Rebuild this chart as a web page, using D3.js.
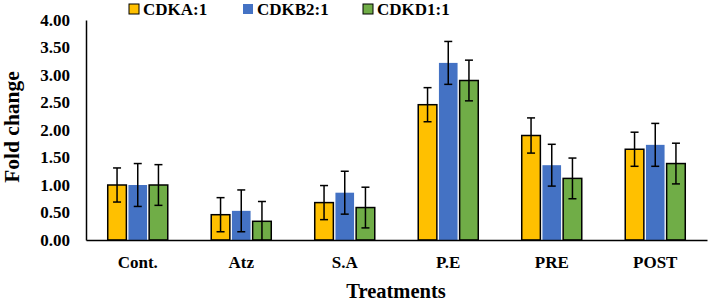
<!DOCTYPE html>
<html>
<head>
<meta charset="utf-8">
<script src="https://cdn.jsdelivr.net/npm/d3@7"></script>
<style>
  body { margin: 0; background: #fff; }
  text { font-family: "Liberation Serif", "Times New Roman", serif; font-weight: bold; fill: #000; }
</style>
</head>
<body>
<svg id="chart" width="708" height="301"></svg>
<script>
// data
const treatments = ["Cont.", "Atz", "S.A", "P.E", "PRE", "POST"];
const genes = ["CDKA:1", "CDKB2:1", "CDKD1:1"];
const cdka = [1.0, 0.46, 0.68, 2.46, 1.9, 1.65];
const cdkb2 = [1.0, 0.53, 0.86, 3.22, 1.36, 1.73];
const cdkd1 = [1.0, 0.34, 0.59, 2.9, 1.12, 1.39];
const errA = [0.31, 0.31, 0.31, 0.31, 0.32, 0.31];
const errB = [0.39, 0.38, 0.39, 0.39, 0.38, 0.39];
const errD = [0.37, 0.36, 0.37, 0.37, 0.37, 0.37];
const yTicks = [0, 0.5, 1, 1.5, 2, 2.5, 3, 3.5, 4];

const colors = { "CDKA:1": "#FFC000", "CDKB2:1": "#4472C4", "CDKD1:1": "#70AD47" };
const outlined = { "CDKA:1": true, "CDKB2:1": false, "CDKD1:1": true };

const svg = d3.select("#chart");
const margin = { top: 20, right: 1, bottom: 61, left: 86 };
const width = +svg.attr("width") - margin.left - margin.right;
const height = +svg.attr("height") - margin.top - margin.bottom;

const g = svg.append("g").attr("transform", `translate(${margin.left},${margin.top})`);

const rows = treatments.map((t, i) => ({
  treatment: t,
  values: [
    { key: genes[0], value: cdka[i], err: errA[i] },
    { key: genes[1], value: cdkb2[i], err: errB[i] },
    { key: genes[2], value: cdkd1[i], err: errD[i] }
  ]
}));

const x0 = d3.scaleBand().domain(treatments).range([0, width]).paddingInner(0.38).paddingOuter(0.19);
const x1 = d3.scaleBand().domain(genes).range([0, x0.bandwidth()]).padding(0.1);
const y = d3.scaleLinear().domain([0, 4]).range([height, 0]);

// y axis
const yAxis = g.append("g")
  .call(d3.axisLeft(y).tickValues(yTicks).tickSize(0).tickPadding(16).tickFormat(d3.format(".2f")));
yAxis.select(".domain").attr("stroke", "#000").attr("stroke-width", 1.5);
yAxis.selectAll("text").style("font-size", "17px");

// bars
const groups = g.selectAll(".group")
  .data(rows)
  .enter()
  .append("g")
  .attr("transform", (d) => `translate(${x0(d.treatment)},0)`);

groups.selectAll("rect")
  .data((d) => d.values)
  .enter()
  .append("rect")
  .attr("x", (d) => x1(d.key))
  .attr("y", (d) => y(d.value))
  .attr("width", x1.bandwidth())
  .attr("height", (d) => height - y(d.value))
  .attr("fill", (d) => colors[d.key])
  .attr("stroke", (d) => (outlined[d.key] ? "#000" : "none"))
  .attr("stroke-width", 1.5);

// error bars
const eb = groups.selectAll(".err")
  .data((d) => d.values)
  .enter()
  .append("g")
  .attr("stroke", "#000")
  .attr("stroke-width", 1.5);
const cx = (d) => x1(d.key) + x1.bandwidth() / 2;
eb.append("line")
  .attr("x1", cx).attr("x2", cx)
  .attr("y1", (d) => y(d.value + d.err))
  .attr("y2", (d) => y(Math.max(0, d.value - d.err)));
eb.append("line")
  .attr("x1", (d) => cx(d) - 4).attr("x2", (d) => cx(d) + 4)
  .attr("y1", (d) => y(d.value + d.err)).attr("y2", (d) => y(d.value + d.err));
eb.filter((d) => d.value - d.err > 0)
  .append("line")
  .attr("x1", (d) => cx(d) - 4).attr("x2", (d) => cx(d) + 4)
  .attr("y1", (d) => y(d.value - d.err)).attr("y2", (d) => y(d.value - d.err));

// x axis
const xAxis = g.append("g")
  .attr("transform", `translate(0,${height})`)
  .call(d3.axisBottom(x0).tickSize(0).tickPadding(16).tickSizeOuter(0));
xAxis.select(".domain").attr("stroke", "#000").attr("stroke-width", 1.5);
xAxis.selectAll("text").style("font-size", "17px");

// axis titles
svg.append("text")
  .attr("x", 396)
  .attr("y", 298)
  .attr("text-anchor", "middle")
  .style("font-size", "20.5px")
  .text("Treatments");

svg.append("text")
  .attr("transform", "translate(19,127) rotate(-90)")
  .attr("text-anchor", "middle")
  .style("font-size", "21.5px")
  .text("Fold change");

// legend
const legendX = [129, 243, 363];
const legend = svg.selectAll(".legend")
  .data(genes)
  .enter()
  .append("g")
  .attr("transform", (d, i) => `translate(${legendX[i]},4)`);
legend.append("rect")
  .attr("width", 10).attr("height", 10)
  .attr("fill", (d) => colors[d])
  .attr("stroke", (d) => (outlined[d] ? "#000" : "none"))
  .attr("stroke-width", 1);
legend.append("text")
  .attr("x", 14).attr("y", 10.5)
  .style("font-size", "17px")
  .text((d) => d);
</script>
</body>
</html>
